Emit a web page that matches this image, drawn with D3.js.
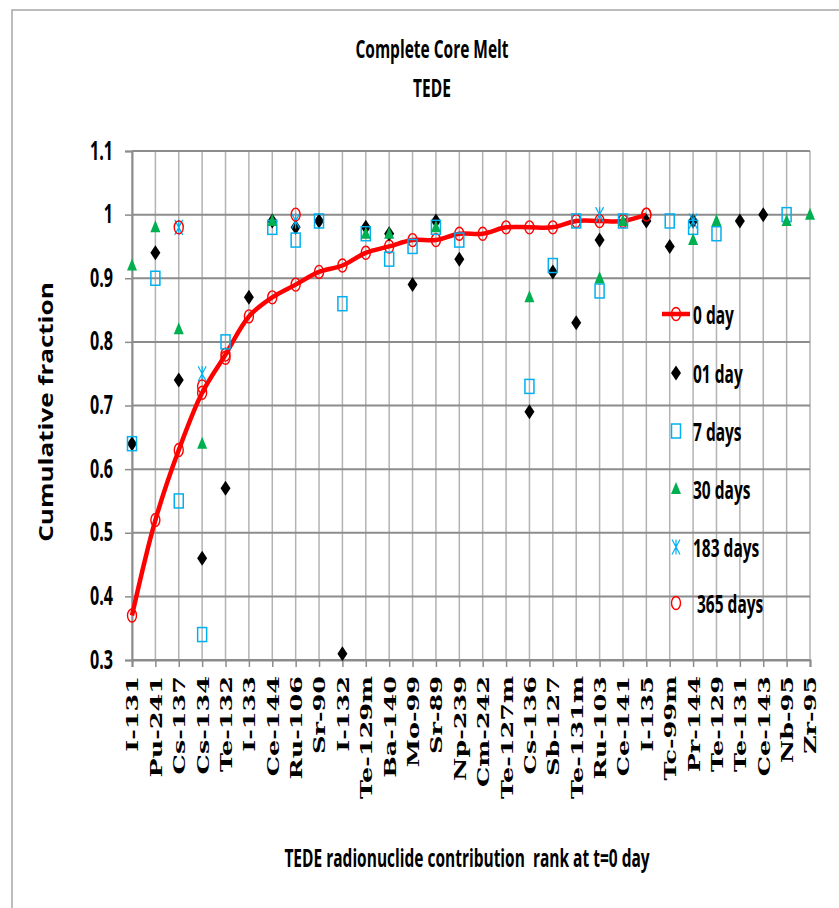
<!DOCTYPE html>
<html>
<head>
<meta charset="utf-8">
<script src="https://cdn.jsdelivr.net/npm/d3@7"></script>
<style>
  body { margin: 0; background: #fff; }
  text { white-space: pre; }
</style>
</head>
<body>
<div id="chart"></div>
<script>
// categories, ranked by TEDE contribution at t=0
var categories = ["I-131", "Pu-241", "Cs-137", "Cs-134", "Te-132", "I-133", "Ce-144", "Ru-106", "Sr-90", "I-132",
	"Te-129m", "Ba-140", "Mo-99", "Sr-89", "Np-239", "Cm-242", "Te-127m", "Cs-136", "Sb-127", "Te-131m",
	"Ru-103", "Ce-141", "I-135", "Tc-99m", "Pr-144", "Te-129", "Te-131", "Ce-143", "Nb-95", "Zr-95"];

var day0   = [0.37, 0.52, 0.63, 0.72, 0.78, 0.84, 0.87, 0.89, 0.91, 0.92, 0.94, 0.95, 0.96, 0.96, 0.97,
	0.97, 0.98, 0.98, 0.98, 0.99, 0.99, 0.99, 1.00, null, null, null, null, null, null, null];
var day1   = [0.64, 0.94, 0.74, 0.46, 0.57, 0.87, 0.99, 0.98, 0.99, 0.31, 0.98, 0.97, 0.89, 0.99, 0.93,
	null, null, 0.69, 0.91, 0.83, 0.96, null, 0.99, 0.95, 0.99, null, 0.99, 1.00, null, null];
var day7   = [0.64, 0.90, 0.55, 0.34, 0.80, null, 0.98, 0.96, 0.99, 0.86, 0.97, 0.93, 0.95, 0.98, 0.96,
	null, null, 0.73, 0.92, 0.99, 0.88, 0.99, null, 0.99, 0.98, 0.97, null, null, 1.00, null];
var day30  = [0.92, 0.98, 0.82, 0.64, null, null, 0.99, null, null, null, 0.97, 0.97, null, 0.98, null,
	null, null, 0.87, null, null, 0.90, 0.99, null, null, 0.96, 0.99, null, null, 0.99, 1.00];
var day183 = [null, null, 0.98, 0.75, null, null, null, 0.99, null, null, null, null, null, null, null,
	null, null, null, null, null, 1.00, null, null, null, 0.99, null, null, null, null, null];
var day365 = [null, null, 0.98, 0.73, 0.775, null, null, 1.00, null, null, null, null, null, null, null,
	null, null, null, null, null, null, null, 1.00, null, null, null, null, null, null, null];

var yTicks = [0.3, 0.4, 0.5, 0.6, 0.7, 0.8, 0.9, 1, 1.1];
var yTickLabels = ["0.3", "0.4", "0.5", "0.6", "0.7", "0.8", "0.9", "1", "1.1"];

var seriesNames = ["0 day", "01 day", "7 days", "30 days", "183 days", "365 days"];

var width = 839, height = 908;
var sans = "'Open Sans', 'DejaVu Sans', sans-serif";
var narrow = 0.62;

var svg = d3.select('#chart').append('svg')
	.attr('width', width).attr('height', height)
	.style('background', '#fff');

var x = d3.scalePoint().domain(categories).range([132, 810]);
var y = d3.scaleLinear().domain([0.3, 1.1]).range([660, 151]);

// text helper: the source picture is squeezed sideways, so text is scaled along its length
function label(parent, px, py, str, size, opts)
{
	opts = opts || {};
	var rot = opts.rotate || 0;
	var sx = opts.sx || narrow;
	return parent.append('text')
		.attr('transform', 'translate(' + px + ',' + py + ') rotate(' + rot + ') scale(' + sx + ',1)')
		.attr('text-anchor', opts.anchor || 'middle')
		.attr('dy', opts.dy || 0)
		.style('font-family', opts.family || sans)
		.style('font-weight', 'bold')
		.style('font-size', size + 'px')
		.attr('fill', '#000')
		.text(str);
}

// chart frame
svg.append('path').attr('d', 'M12,908 L12,10 L839,10')
	.attr('fill', 'none').attr('stroke', '#a6a6a6').attr('stroke-width', 1.5);

// titles
label(svg, 432, 58, "Complete Core Melt", 25);
label(svg, 432, 97, "TEDE", 25);
label(svg, 467, 867, "TEDE radionuclide contribution  rank at t=0 day", 25);
label(svg, 46, 412, "Cumulative fraction", 19, {rotate: -90, sx: 1.37, dy: '0.35em'});

// grid
var grid = svg.append('g');
grid.selectAll('line.v').data(categories).enter().append('line')
	.attr('x1', function(d) { return x(d); }).attr('x2', function(d) { return x(d); })
	.attr('y1', y(1.1)).attr('y2', y(0.3))
	.attr('stroke', '#b3b3b3').attr('stroke-width', 1.5);
grid.selectAll('line.h').data(yTicks).enter().append('line')
	.attr('x1', x.range()[0]).attr('x2', x.range()[1])
	.attr('y1', function(d) { return y(d); }).attr('y2', function(d) { return y(d); })
	.attr('stroke', '#8c8c8c').attr('stroke-width', 2);

// axes
var yAxis = svg.append('g').attr('transform', 'translate(132,0)')
	.call(d3.axisLeft(y).tickValues(yTicks).tickSize(7).tickFormat(function(d, i) { return yTickLabels[i]; }));
var xAxis = svg.append('g').attr('transform', 'translate(0,660)')
	.call(d3.axisBottom(x).tickSize(7));

[yAxis, xAxis].forEach(function(a) {
	a.select('.domain').attr('stroke', '#8c8c8c').attr('stroke-width', 2);
	a.selectAll('.tick line').attr('stroke', '#8c8c8c').attr('stroke-width', 1.5);
});

yAxis.selectAll('.tick text')
	.attr('x', 0).attr('dy', 0)
	.attr('transform', 'translate(-19,8) scale(0.62,1)')
	.attr('text-anchor', 'end')
	.style('font-family', sans).style('font-weight', 'bold').style('font-size', '26px')
	.attr('fill', '#000');

xAxis.selectAll('.tick text')
	.attr('x', 0).attr('y', 0).attr('dy', '0.35em')
	.attr('transform', 'translate(0,16) rotate(-90) scale(1.5,1)')
	.attr('text-anchor', 'end')
	.style('font-family', "'DejaVu Serif', serif").style('font-weight', 'bold').style('font-size', '17px')
	.attr('fill', '#000');

// marker shapes
function diamond(g) {
	g.append('path').attr('d', 'M0,-7.5 L5,0 L0,7.5 L-5,0 Z').attr('fill', '#000');
}
function square(g) {
	g.append('rect').attr('x', -4.5).attr('y', -7).attr('width', 9).attr('height', 14)
		.attr('fill', 'none').attr('stroke', '#00b0f0').attr('stroke-width', 1.5);
}
function triangle(g) {
	g.append('path').attr('d', 'M0,-7 L5,5 L-5,5 Z').attr('fill', '#00b050');
}
function star(g) {
	g.append('path').attr('d', 'M-4,-7.5 L4,7.5 M4,-7.5 L-4,7.5 M0,-7.5 L0,7.5')
		.attr('fill', 'none').attr('stroke', '#00b0f0').attr('stroke-width', 1.2);
}
function ring(g) {
	g.append('ellipse').attr('rx', 4.5).attr('ry', 6.5)
		.attr('fill', 'none').attr('stroke', '#ff0000').attr('stroke-width', 1.4);
}

function drawPoints(values, shape)
{
	var pts = categories.map(function(c, i) { return {c: c, v: values[i]}; })
		.filter(function(d) { return d.v !== null; });
	svg.append('g').selectAll('g').data(pts).enter().append('g')
		.attr('transform', function(d) { return 'translate(' + x(d.c) + ',' + y(d.v) + ')'; })
		.each(function() { shape(d3.select(this)); });
}

// 0 day: smoothed red line with open circles
var line = d3.line()
	.defined(function(d) { return d.v !== null; })
	.x(function(d) { return x(d.c); })
	.y(function(d) { return y(d.v); })
	.curve(d3.curveCatmullRom.alpha(0.5));
svg.append('path')
	.datum(categories.map(function(c, i) { return {c: c, v: day0[i]}; }))
	.attr('d', line)
	.attr('fill', 'none').attr('stroke', '#ff0000').attr('stroke-width', 4.5);
drawPoints(day0, ring);
drawPoints(day1, diamond);
drawPoints(day7, square);
drawPoints(day30, triangle);
drawPoints(day183, star);
drawPoints(day365, ring);

// legend
var legendShapes = [ring, diamond, square, triangle, star, ring];
var legendY = [314, 373, 431, 489, 547, 603];
var legend = svg.append('g');
seriesNames.forEach(function(name, i) {
	var row = legend.append('g').attr('transform', 'translate(676,' + legendY[i] + ')');
	if (i === 0) {
		row.append('line').attr('x1', -14).attr('x2', 14).attr('y1', 0).attr('y2', 0)
			.attr('stroke', '#ff0000').attr('stroke-width', 4.5);
	}
	legendShapes[i](row);
	label(row, i === 5 ? 21 : 17, 10, name, 25, {anchor: 'start'});
});
</script>
</body>
</html>
